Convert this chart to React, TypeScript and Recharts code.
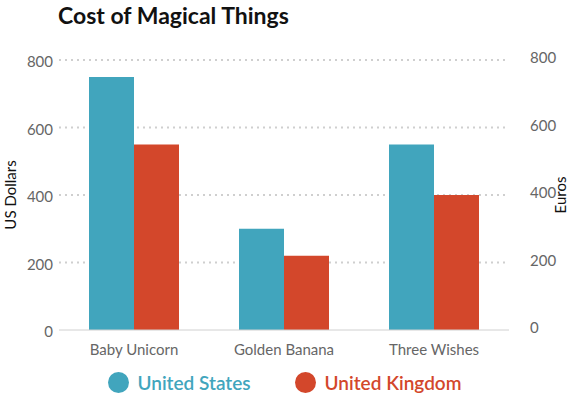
import React from 'react';
import {
  BarChart,
  Bar,
  XAxis,
  YAxis,
  CartesianGrid,
  Legend
} from 'recharts';

const categories = ['Baby Unicorn', 'Golden Banana', 'Three Wishes'];
const usValues = [750, 300, 550];
const ukValues = [550, 220, 400];
const yTicks = [0, 200, 400, 600, 800];

const US_COLOR = '#41a5bd';
const UK_COLOR = '#d3472b';
const FONT = 'Lato, "Open Sans", sans-serif';

const data = categories.map((name, i) => ({ name, us: usValues[i], uk: ukValues[i] }));

// Legend with big round markers and coloured labels
const LegendContent = () => (
  <div style={{ display: 'flex', justifyContent: 'center', alignItems: 'center', gap: 44, height: 36, paddingTop: 8, boxSizing: 'border-box', fontFamily: FONT }}>
    {[
      { label: 'United States', color: US_COLOR },
      { label: 'United Kingdom', color: UK_COLOR }
    ].map(item => (
      <div key={item.label} style={{ display: 'flex', alignItems: 'center', gap: 9 }}>
        <span style={{ width: 21, height: 21, borderRadius: '50%', background: item.color, display: 'inline-block' }} />
        <span style={{ color: item.color, fontSize: 19, fontWeight: 600 }}>{item.label}</span>
      </div>
    ))}
  </div>
);

// rotated axis title, placed at a fixed x inside the axis box
const axisTitle = (text: string, side: 'left' | 'right') => (props: any) => {
  const { viewBox } = props;
  const x = side === 'left' ? viewBox.x + 10 : viewBox.x + viewBox.width - 9;
  const y = viewBox.y + viewBox.height / 2;
  return (
    <text x={x} y={y} transform={`rotate(-90 ${x} ${y})`} textAnchor="middle" dominantBaseline="central" fill="#111" fontSize={15} fontFamily={FONT}>
      {text}
    </text>
  );
};

export default function App() {
  return (
    <div style={{ position: 'absolute', left: 0, top: 0, width: 569, height: 396, background: '#fff', fontFamily: FONT }}>
      <div style={{ position: 'absolute', left: 58, top: 1, fontSize: 23, fontWeight: 700, color: '#111' }}>
        Cost of Magical Things
      </div>
      <BarChart
        width={569}
        height={396}
        data={data}
        margin={{ top: 60, right: 0, left: 0, bottom: 0 }}
        barCategoryGap="20%"
        barGap={0}
      >
        <CartesianGrid
          vertical={false}
          stroke="#cfcfcf"
          strokeWidth={2}
          strokeDasharray="2 4"
          horizontalValues={[200, 400, 600, 800]}
          yAxisId="left"
        />
        <XAxis
          dataKey="name"
          stroke="#d0d0d0"
          tickLine={false}
          tick={{ fill: '#666', fontSize: 15 }}
          tickMargin={8}
          height={30}
        />
        <YAxis
          yAxisId="left"
          domain={[0, 800]}
          ticks={yTicks}
          width={59}
          axisLine={false}
          tickLine={false}
          tickSize={0}
          tickMargin={6}
          tick={{ fill: '#666', fontSize: 15, dy: 2 }}
          label={axisTitle('US Dollars', 'left')}
        />
        <YAxis
          yAxisId="right"
          orientation="right"
          domain={[0, 800]}
          ticks={yTicks}
          width={60}
          axisLine={false}
          tickLine={false}
          tickSize={0}
          tickMargin={21}
          tick={{ fill: '#666', fontSize: 15, dy: -2 }}
          label={axisTitle('Euros', 'right')}
        />
        <Legend verticalAlign="bottom" height={36} content={LegendContent} />
        <Bar yAxisId="left" dataKey="us" name="United States" fill={US_COLOR} isAnimationActive={false} />
        <Bar yAxisId="right" dataKey="uk" name="United Kingdom" fill={UK_COLOR} isAnimationActive={false} />
      </BarChart>
    </div>
  );
}
